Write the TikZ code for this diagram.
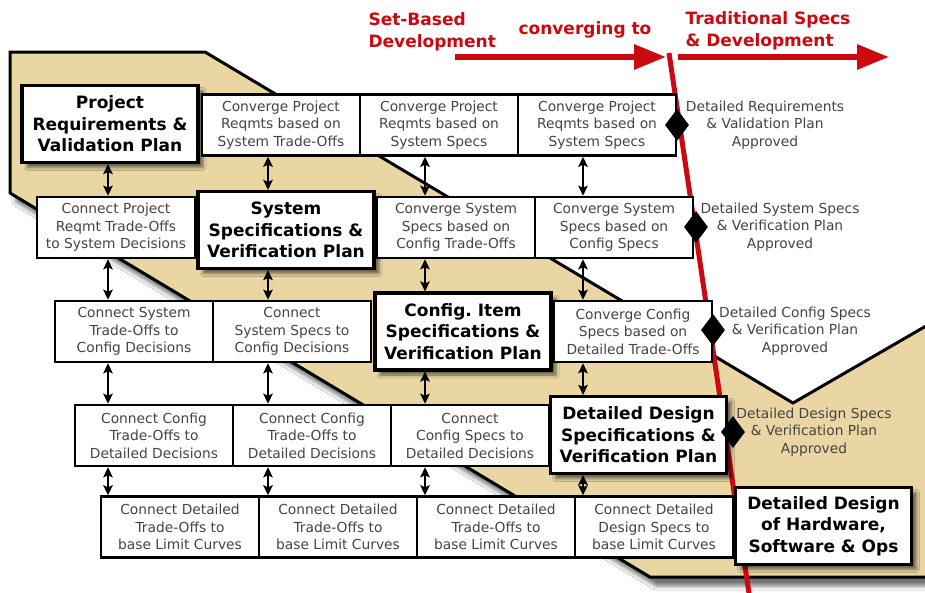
\documentclass[tikz,border=0pt]{standalone}
\usepackage{fontspec}
\setmainfont{DejaVu Sans}
\usetikzlibrary{arrows.meta,shapes.geometric,shadows,shadows.blur}
\definecolor{tanc}{RGB}{234,214,163}
\definecolor{sbred}{RGB}{204,8,16}
\definecolor{txtgray}{RGB}{68,68,68}
\begin{document}
\begin{tikzpicture}[x=1pt,y=-1pt,
  smallbox/.style={draw=black, line width=2.6pt, fill=white, minimum width=158pt, minimum height=61pt, inner sep=0pt, align=center, text=txtgray, font=\fontsize{13.8}{17.5}\selectfont},
  bigbox/.style={draw=black, line width=3.2pt, fill=white, minimum width=176pt, minimum height=77pt, inner sep=0pt, align=center, text=black, font=\bfseries\fontsize{17}{21.5}\selectfont, blur shadow={shadow xshift=5pt, shadow yshift=-5pt, shadow blur radius=3pt, shadow opacity=55}},
  gate/.style={diamond, fill=black, inner sep=0pt, minimum width=24pt, minimum height=32pt},
  note/.style={align=center, text=txtgray, font=\fontsize{13.8}{17.5}\selectfont},
  redlbl/.style={align=left, text=sbred, font=\bfseries\fontsize{17}{21.5}\selectfont},
  link/.style={{Stealth[length=10pt,width=9.5pt,inset=2pt]}-{Stealth[length=10pt,width=9.5pt,inset=2pt]}, line width=2.3pt},
  redarrow/.style={line width=6pt, draw=sbred, -{Triangle[length=32pt,width=24pt]}}
]
\useasboundingbox (0,0) rectangle (925,592);
\clip (0,0) rectangle (925,592);
\fill[white] (0,0) rectangle (925,592);
% tan band
\filldraw[fill=tanc, draw=black, line width=3pt, line join=miter,
  blur shadow={shadow xshift=6pt, shadow yshift=-9pt, shadow blur radius=4pt, shadow opacity=55}]
  (10,52) -- (205,52) -- (793,403) -- (945,315) -- (945,577) -- (650,577) -- (10,193) -- cycle;
% red arrows
\coordinate (ra1) at (455,57); \coordinate (ra2) at (666,57);
\coordinate (rb1) at (678,57); \coordinate (rb2) at (889,57);
\coordinate (rl1) at (669,53); \coordinate (rl2) at (750,600);
\draw[redarrow] (ra1) -- (ra2);
\draw[redarrow] (rb1) -- (rb2);
\draw[sbred, line width=5pt] (rl1) -- (rl2);
% red labels
\node[redlbl, anchor=west] (lsb) at (365,32) {Set-Based\\Development};
\node[redlbl, anchor=west] (lconv) at (515,29.5) {converging to};
\node[redlbl, anchor=west] (ltrad) at (682,31) {Traditional Specs\\\& Development};
% columns
\coordinate (c1) at (108,0);
\coordinate (c2) at (268,0);
\coordinate (c3) at (425,0);
\coordinate (c4) at (583,0);
% row 1
\node[bigbox] (B1) at (110,124) {Project\\Requirements \&\\Validation Plan};
\node[smallbox] (r1a) at (281,125) {Converge Project\\Reqmts based on\\System Trade-Offs};
\node[smallbox] (r1b) at (439,125) {Converge Project\\Reqmts based on\\System Specs};
\node[smallbox] (r1c) at (597,125) {Converge Project\\Reqmts based on\\System Specs};
% row 2
\node[smallbox] (r2a) at (116,227.5) {Connect Project\\Reqmt Trade-Offs\\to System Decisions};
\node[bigbox] (B2) at (286,230) {System\\Specifications \&\\Verification Plan};
\node[smallbox] (r2b) at (456,227.5) {Converge System\\Specs based on\\Config Trade-Offs};
\node[smallbox] (r2c) at (614,227.5) {Converge System\\Specs based on\\Config Specs};
% row 3
\node[smallbox] (r3a) at (134,331.5) {Connect System\\Trade-Offs to\\Config Decisions};
\node[smallbox] (r3b) at (292,331.5) {Connect\\System Specs to\\Config Decisions};
\node[bigbox] (B3) at (463,331.5) {Config.\ Item\\Specifications \&\\Verification Plan};
\node[smallbox] (r3c) at (633,331.5) {Converge Config\\Specs based on\\Detailed Trade-Offs};
% row 4
\node[smallbox] (r4a) at (154,435.5) {Connect Config\\Trade-Offs to\\Detailed Decisions};
\node[smallbox] (r4b) at (312,435.5) {Connect Config\\Trade-Offs to\\Detailed Decisions};
\node[smallbox] (r4c) at (470,435.5) {Connect\\Config Specs to\\Detailed Decisions};
\node[bigbox] (B4) at (638.5,435) {Detailed Design\\Specifications \&\\Verification Plan};
% row 5
\node[smallbox] (r5a) at (180,527) {Connect Detailed\\Trade-Offs to\\base Limit Curves};
\node[smallbox] (r5b) at (338,527) {Connect Detailed\\Trade-Offs to\\base Limit Curves};
\node[smallbox] (r5c) at (496,527) {Connect Detailed\\Trade-Offs to\\base Limit Curves};
\node[smallbox] (r5d) at (654,527) {Connect Detailed\\Design Specs to\\base Limit Curves};
\node[bigbox] (B5) at (823.5,526) {Detailed Design\\of Hardware,\\Software \& Ops};
% links
\draw[link] (B1.south -| c1) -- (r2a.north -| c1);
\draw[link] (r1a.south -| c2) -- (B2.north -| c2);
\draw[link] (r1b.south -| c3) -- (r2b.north -| c3);
\draw[link] (r1c.south -| c4) -- (r2c.north -| c4);
\draw[link] (r2a.south -| c1) -- (r3a.north -| c1);
\draw[link] (B2.south -| c2) -- (r3b.north -| c2);
\draw[link] (r2b.south -| c3) -- (B3.north -| c3);
\draw[link] (r2c.south -| c4) -- (r3c.north -| c4);
\draw[link] (r3a.south -| c1) -- (r4a.north -| c1);
\draw[link] (r3b.south -| c2) -- (r4b.north -| c2);
\draw[link] (B3.south -| c3) -- (r4c.north -| c3);
\draw[link] (r3c.south -| c4) -- (B4.north -| c4);
\draw[link] (r4a.south -| c1) -- (r5a.north -| c1);
\draw[link] (r4b.south -| c2) -- (r5b.north -| c2);
\draw[link] (r4c.south -| c3) -- (r5c.north -| c3);
\draw[link] (B4.south -| c4) -- (r5d.north -| c4);
% gates
\node[gate] (d1) at (677,125) {};
\node[gate] (d2) at (696,227) {};
\node[gate] (d3) at (713,330) {};
\node[gate] (d4) at (733,432) {};
% notes
\node[note] (n1) at (765,125) {Detailed Requirements\\\& Validation Plan\\Approved};
\node[note] (n2) at (780,227) {Detailed System Specs\\\& Verification Plan\\Approved};
\node[note] (n3) at (795,331) {Detailed Config Specs\\\& Verification Plan\\Approved};
\node[note] (n4) at (814,432) {Detailed Design Specs\\\& Verification Plan\\Approved};
\end{tikzpicture}
\end{document}
